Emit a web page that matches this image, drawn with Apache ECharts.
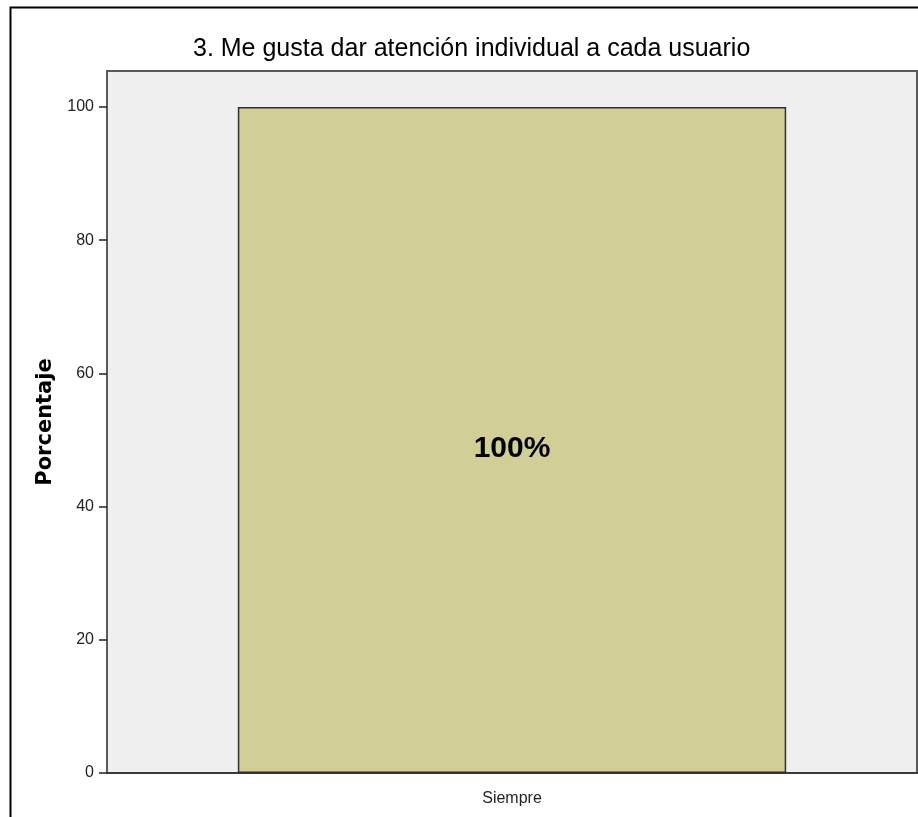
<!DOCTYPE html>
<html>
<head>
<meta charset="utf-8">
<script src="https://cdn.jsdelivr.net/npm/echarts@6/dist/echarts.min.js"></script>
<style>
  html, body { margin: 0; padding: 0; background: #ffffff; }
  #chart { width: 918px; height: 817px; }
</style>
</head>
<body>
<div id="chart"></div>
<script>
// Survey item and answer distribution
const titleText = '3. Me gusta dar atención individual a cada usuario';
const categories = ['Siempre'];
const percentages = [100];
const yTicks = [0, 20, 40, 60, 80, 100];
const yAxisTitle = 'Porcentaje';

const chart = echarts.init(document.getElementById('chart'), null, { renderer: 'canvas' });

chart.setOption({
  animation: false,
  backgroundColor: '#ffffff',
  title: {
    text: titleText,
    left: 188,
    top: 32,
    textStyle: {
      fontFamily: 'Liberation Sans, Arial, sans-serif',
      fontSize: 25,
      fontWeight: 'normal',
      color: '#000000'
    }
  },
  graphic: [
    {
      // frame around the whole output panel
      type: 'rect',
      left: 8,
      top: 5,
      shape: { width: 940, height: 860 },
      style: { fill: 'none', stroke: '#000000', lineWidth: 2 },
      silent: true,
      z: 100
    }
  ],
  grid: {
    left: 107,
    right: 1,
    top: 71,
    bottom: 44,
    show: true,
    backgroundColor: '#efefef',
    borderColor: '#5a5a5a',
    borderWidth: 2
  },
  xAxis: {
    type: 'category',
    data: categories,
    axisLine: { lineStyle: { color: '#3a3a3a', width: 2 } },
    axisTick: { alignWithLabel: true, length: 11, lineStyle: { color: '#222222', width: 1.5 } },
    axisLabel: {
      margin: 18,
      fontFamily: 'Liberation Sans, Arial, sans-serif',
      fontSize: 16,
      color: '#222222'
    }
  },
  yAxis: {
    type: 'value',
    min: 0,
    max: 105.4,
    name: yAxisTitle,
    nameLocation: 'middle',
    nameGap: 47,
    nameTextStyle: {
      fontFamily: 'DejaVu Sans, Verdana, sans-serif',
      fontWeight: 'bold',
      fontSize: 21,
      color: '#000000'
    },
    splitLine: { show: false },
    axisLine: { show: true, lineStyle: { color: '#5a5a5a', width: 2 } },
    axisTick: {
      show: true,
      length: 8,
      customValues: yTicks,
      lineStyle: { color: '#222222', width: 1.5 }
    },
    axisLabel: {
      margin: 13,
      customValues: yTicks,
      fontFamily: 'Liberation Sans, Arial, sans-serif',
      fontSize: 16,
      color: '#222222'
    }
  },
  series: [
    {
      type: 'bar',
      data: percentages,
      barWidth: '67.7%',
      itemStyle: { color: '#d2ce98', borderColor: '#2f2f2f', borderWidth: 1.5 },
      label: {
        show: true,
        position: 'inside',
        offset: [0, 9],
        formatter: p => p.value + '%',
        fontFamily: 'Liberation Sans, Arial, sans-serif',
        fontWeight: 'bold',
        fontSize: 30,
        color: '#000000'
      }
    }
  ]
});
</script>
</body>
</html>
